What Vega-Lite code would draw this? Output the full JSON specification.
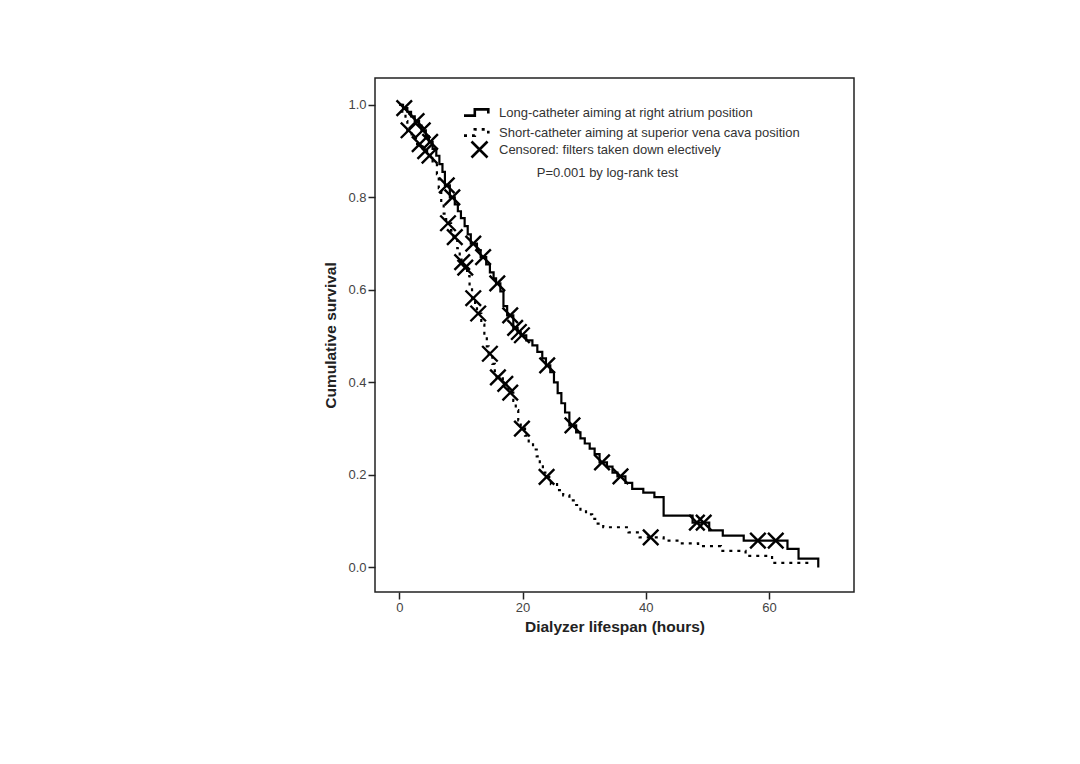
{
  "$schema": "https://vega.github.io/schema/vega-lite/v6.json",
  "width": 479,
  "height": 514,
  "autosize": {"type": "none"},
  "padding": {"left": 375, "top": 78, "right": 226, "bottom": 172},
  "background": "white",
  "config": {
    "view": {"stroke": "#222", "strokeWidth": 1.5},
    "font": "Liberation Sans",
    "axis": {"grid": false, "domain": false, "tickColor": "#222", "tickWidth": 1.5, "tickSize": 7,
             "labelFont": "Liberation Sans", "labelFontSize": 13, "labelColor": "#444",
             "titleFont": "Liberation Sans", "titleFontSize": 15.5, "titleFontWeight": "bold", "titleColor": "#222"}
  },
  "datasets": {
    "curve": [
      {"group": "Long-catheter aiming at right atrium position", "t": 0, "s": 1.0},
      {"group": "Long-catheter aiming at right atrium position", "t": 0.6, "s": 0.993},
      {"group": "Long-catheter aiming at right atrium position", "t": 1.3, "s": 0.985},
      {"group": "Long-catheter aiming at right atrium position", "t": 1.9, "s": 0.975},
      {"group": "Long-catheter aiming at right atrium position", "t": 2.5, "s": 0.965},
      {"group": "Long-catheter aiming at right atrium position", "t": 3.2, "s": 0.955},
      {"group": "Long-catheter aiming at right atrium position", "t": 3.6, "s": 0.945},
      {"group": "Long-catheter aiming at right atrium position", "t": 4.3, "s": 0.932},
      {"group": "Long-catheter aiming at right atrium position", "t": 4.8, "s": 0.92},
      {"group": "Long-catheter aiming at right atrium position", "t": 5.4, "s": 0.905},
      {"group": "Long-catheter aiming at right atrium position", "t": 6.0, "s": 0.89},
      {"group": "Long-catheter aiming at right atrium position", "t": 6.5, "s": 0.872},
      {"group": "Long-catheter aiming at right atrium position", "t": 7.0, "s": 0.855},
      {"group": "Long-catheter aiming at right atrium position", "t": 7.4, "s": 0.826},
      {"group": "Long-catheter aiming at right atrium position", "t": 8.2, "s": 0.80},
      {"group": "Long-catheter aiming at right atrium position", "t": 9.0, "s": 0.785},
      {"group": "Long-catheter aiming at right atrium position", "t": 9.5, "s": 0.77},
      {"group": "Long-catheter aiming at right atrium position", "t": 10.0, "s": 0.755},
      {"group": "Long-catheter aiming at right atrium position", "t": 10.6, "s": 0.738},
      {"group": "Long-catheter aiming at right atrium position", "t": 11.1, "s": 0.72},
      {"group": "Long-catheter aiming at right atrium position", "t": 11.6, "s": 0.70},
      {"group": "Long-catheter aiming at right atrium position", "t": 12.6, "s": 0.686},
      {"group": "Long-catheter aiming at right atrium position", "t": 13.2, "s": 0.671},
      {"group": "Long-catheter aiming at right atrium position", "t": 14.1, "s": 0.655},
      {"group": "Long-catheter aiming at right atrium position", "t": 14.7, "s": 0.638},
      {"group": "Long-catheter aiming at right atrium position", "t": 15.3, "s": 0.625},
      {"group": "Long-catheter aiming at right atrium position", "t": 15.7, "s": 0.614},
      {"group": "Long-catheter aiming at right atrium position", "t": 16.4, "s": 0.597},
      {"group": "Long-catheter aiming at right atrium position", "t": 16.9, "s": 0.565},
      {"group": "Long-catheter aiming at right atrium position", "t": 17.5, "s": 0.545},
      {"group": "Long-catheter aiming at right atrium position", "t": 18.5, "s": 0.518},
      {"group": "Long-catheter aiming at right atrium position", "t": 19.2, "s": 0.509},
      {"group": "Long-catheter aiming at right atrium position", "t": 19.7, "s": 0.502},
      {"group": "Long-catheter aiming at right atrium position", "t": 20.6, "s": 0.491},
      {"group": "Long-catheter aiming at right atrium position", "t": 21.6, "s": 0.48},
      {"group": "Long-catheter aiming at right atrium position", "t": 22.4, "s": 0.466},
      {"group": "Long-catheter aiming at right atrium position", "t": 23.2, "s": 0.452},
      {"group": "Long-catheter aiming at right atrium position", "t": 23.8, "s": 0.437},
      {"group": "Long-catheter aiming at right atrium position", "t": 24.5, "s": 0.422},
      {"group": "Long-catheter aiming at right atrium position", "t": 25.1, "s": 0.40},
      {"group": "Long-catheter aiming at right atrium position", "t": 25.7, "s": 0.377},
      {"group": "Long-catheter aiming at right atrium position", "t": 26.3, "s": 0.355},
      {"group": "Long-catheter aiming at right atrium position", "t": 26.9, "s": 0.335},
      {"group": "Long-catheter aiming at right atrium position", "t": 27.6, "s": 0.307},
      {"group": "Long-catheter aiming at right atrium position", "t": 28.7, "s": 0.292},
      {"group": "Long-catheter aiming at right atrium position", "t": 29.4, "s": 0.279},
      {"group": "Long-catheter aiming at right atrium position", "t": 30.1, "s": 0.268},
      {"group": "Long-catheter aiming at right atrium position", "t": 30.9, "s": 0.257},
      {"group": "Long-catheter aiming at right atrium position", "t": 31.7, "s": 0.245},
      {"group": "Long-catheter aiming at right atrium position", "t": 32.5, "s": 0.227},
      {"group": "Long-catheter aiming at right atrium position", "t": 33.7, "s": 0.218},
      {"group": "Long-catheter aiming at right atrium position", "t": 34.6, "s": 0.205},
      {"group": "Long-catheter aiming at right atrium position", "t": 35.4, "s": 0.197},
      {"group": "Long-catheter aiming at right atrium position", "t": 36.7, "s": 0.183},
      {"group": "Long-catheter aiming at right atrium position", "t": 37.8, "s": 0.17},
      {"group": "Long-catheter aiming at right atrium position", "t": 39.6, "s": 0.162},
      {"group": "Long-catheter aiming at right atrium position", "t": 41.4, "s": 0.152},
      {"group": "Long-catheter aiming at right atrium position", "t": 42.9, "s": 0.112},
      {"group": "Long-catheter aiming at right atrium position", "t": 47.6, "s": 0.097},
      {"group": "Long-catheter aiming at right atrium position", "t": 50.3, "s": 0.08},
      {"group": "Long-catheter aiming at right atrium position", "t": 52.5, "s": 0.069},
      {"group": "Long-catheter aiming at right atrium position", "t": 55.9, "s": 0.058},
      {"group": "Long-catheter aiming at right atrium position", "t": 63.0, "s": 0.04},
      {"group": "Long-catheter aiming at right atrium position", "t": 64.8, "s": 0.019},
      {"group": "Long-catheter aiming at right atrium position", "t": 68.0, "s": 0.0},
      {"group": "Short-catheter aiming at superior vena cava position", "t": 0, "s": 1.0},
      {"group": "Short-catheter aiming at superior vena cava position", "t": 0.4, "s": 0.985},
      {"group": "Short-catheter aiming at superior vena cava position", "t": 1.0, "s": 0.965},
      {"group": "Short-catheter aiming at superior vena cava position", "t": 1.3, "s": 0.945},
      {"group": "Short-catheter aiming at superior vena cava position", "t": 2.0, "s": 0.93},
      {"group": "Short-catheter aiming at superior vena cava position", "t": 2.7, "s": 0.915},
      {"group": "Short-catheter aiming at superior vena cava position", "t": 3.8, "s": 0.90},
      {"group": "Short-catheter aiming at superior vena cava position", "t": 4.5, "s": 0.89},
      {"group": "Short-catheter aiming at superior vena cava position", "t": 5.4, "s": 0.875},
      {"group": "Short-catheter aiming at superior vena cava position", "t": 6.1, "s": 0.85},
      {"group": "Short-catheter aiming at superior vena cava position", "t": 6.4, "s": 0.82},
      {"group": "Short-catheter aiming at superior vena cava position", "t": 6.8, "s": 0.79},
      {"group": "Short-catheter aiming at superior vena cava position", "t": 7.2, "s": 0.765},
      {"group": "Short-catheter aiming at superior vena cava position", "t": 7.6, "s": 0.744},
      {"group": "Short-catheter aiming at superior vena cava position", "t": 8.4, "s": 0.728},
      {"group": "Short-catheter aiming at superior vena cava position", "t": 8.8, "s": 0.714},
      {"group": "Short-catheter aiming at superior vena cava position", "t": 9.4, "s": 0.69},
      {"group": "Short-catheter aiming at superior vena cava position", "t": 9.8, "s": 0.672},
      {"group": "Short-catheter aiming at superior vena cava position", "t": 10.1, "s": 0.66},
      {"group": "Short-catheter aiming at superior vena cava position", "t": 10.5, "s": 0.648},
      {"group": "Short-catheter aiming at superior vena cava position", "t": 11.0, "s": 0.63},
      {"group": "Short-catheter aiming at superior vena cava position", "t": 11.4, "s": 0.605},
      {"group": "Short-catheter aiming at superior vena cava position", "t": 11.8, "s": 0.582},
      {"group": "Short-catheter aiming at superior vena cava position", "t": 12.3, "s": 0.565},
      {"group": "Short-catheter aiming at superior vena cava position", "t": 12.6, "s": 0.549},
      {"group": "Short-catheter aiming at superior vena cava position", "t": 13.3, "s": 0.525},
      {"group": "Short-catheter aiming at superior vena cava position", "t": 13.8, "s": 0.50},
      {"group": "Short-catheter aiming at superior vena cava position", "t": 14.2, "s": 0.478},
      {"group": "Short-catheter aiming at superior vena cava position", "t": 14.5, "s": 0.462},
      {"group": "Short-catheter aiming at superior vena cava position", "t": 15.1, "s": 0.44},
      {"group": "Short-catheter aiming at superior vena cava position", "t": 15.5, "s": 0.42},
      {"group": "Short-catheter aiming at superior vena cava position", "t": 15.8, "s": 0.411},
      {"group": "Short-catheter aiming at superior vena cava position", "t": 16.8, "s": 0.397},
      {"group": "Short-catheter aiming at superior vena cava position", "t": 17.7, "s": 0.378},
      {"group": "Short-catheter aiming at superior vena cava position", "t": 18.5, "s": 0.36},
      {"group": "Short-catheter aiming at superior vena cava position", "t": 18.9, "s": 0.34},
      {"group": "Short-catheter aiming at superior vena cava position", "t": 19.3, "s": 0.318},
      {"group": "Short-catheter aiming at superior vena cava position", "t": 19.7, "s": 0.30},
      {"group": "Short-catheter aiming at superior vena cava position", "t": 20.4, "s": 0.285},
      {"group": "Short-catheter aiming at superior vena cava position", "t": 21.0, "s": 0.27},
      {"group": "Short-catheter aiming at superior vena cava position", "t": 21.7, "s": 0.255},
      {"group": "Short-catheter aiming at superior vena cava position", "t": 22.3, "s": 0.24},
      {"group": "Short-catheter aiming at superior vena cava position", "t": 22.8, "s": 0.222},
      {"group": "Short-catheter aiming at superior vena cava position", "t": 23.3, "s": 0.205},
      {"group": "Short-catheter aiming at superior vena cava position", "t": 23.7, "s": 0.196},
      {"group": "Short-catheter aiming at superior vena cava position", "t": 24.6, "s": 0.18},
      {"group": "Short-catheter aiming at superior vena cava position", "t": 25.6, "s": 0.167},
      {"group": "Short-catheter aiming at superior vena cava position", "t": 26.6, "s": 0.156},
      {"group": "Short-catheter aiming at superior vena cava position", "t": 27.6, "s": 0.145},
      {"group": "Short-catheter aiming at superior vena cava position", "t": 28.5, "s": 0.135},
      {"group": "Short-catheter aiming at superior vena cava position", "t": 29.4, "s": 0.125},
      {"group": "Short-catheter aiming at superior vena cava position", "t": 30.3, "s": 0.115},
      {"group": "Short-catheter aiming at superior vena cava position", "t": 31.3, "s": 0.105},
      {"group": "Short-catheter aiming at superior vena cava position", "t": 32.2, "s": 0.095},
      {"group": "Short-catheter aiming at superior vena cava position", "t": 33.1, "s": 0.087},
      {"group": "Short-catheter aiming at superior vena cava position", "t": 37.2, "s": 0.076},
      {"group": "Short-catheter aiming at superior vena cava position", "t": 39.0, "s": 0.065},
      {"group": "Short-catheter aiming at superior vena cava position", "t": 42.9, "s": 0.058},
      {"group": "Short-catheter aiming at superior vena cava position", "t": 45.5, "s": 0.052},
      {"group": "Short-catheter aiming at superior vena cava position", "t": 48.5, "s": 0.046},
      {"group": "Short-catheter aiming at superior vena cava position", "t": 52.2, "s": 0.036},
      {"group": "Short-catheter aiming at superior vena cava position", "t": 56.2, "s": 0.025},
      {"group": "Short-catheter aiming at superior vena cava position", "t": 60.5, "s": 0.01},
      {"group": "Short-catheter aiming at superior vena cava position", "t": 66.8, "s": 0.01}
    ],
    "censor": [
      {"label": "Censored: filters taken down electively", "t": 0.8, "s": 0.993},
      {"label": "Censored: filters taken down electively", "t": 2.8, "s": 0.965},
      {"label": "Censored: filters taken down electively", "t": 3.8, "s": 0.945},
      {"label": "Censored: filters taken down electively", "t": 5.0, "s": 0.92},
      {"label": "Censored: filters taken down electively", "t": 7.7, "s": 0.826},
      {"label": "Censored: filters taken down electively", "t": 8.6, "s": 0.80},
      {"label": "Censored: filters taken down electively", "t": 12.0, "s": 0.70},
      {"label": "Censored: filters taken down electively", "t": 13.6, "s": 0.671},
      {"label": "Censored: filters taken down electively", "t": 15.9, "s": 0.614},
      {"label": "Censored: filters taken down electively", "t": 18.0, "s": 0.545},
      {"label": "Censored: filters taken down electively", "t": 18.8, "s": 0.518},
      {"label": "Censored: filters taken down electively", "t": 19.4, "s": 0.509},
      {"label": "Censored: filters taken down electively", "t": 19.9, "s": 0.502},
      {"label": "Censored: filters taken down electively", "t": 24.0, "s": 0.437},
      {"label": "Censored: filters taken down electively", "t": 28.1, "s": 0.307},
      {"label": "Censored: filters taken down electively", "t": 32.9, "s": 0.227},
      {"label": "Censored: filters taken down electively", "t": 35.9, "s": 0.197},
      {"label": "Censored: filters taken down electively", "t": 48.3, "s": 0.097},
      {"label": "Censored: filters taken down electively", "t": 49.4, "s": 0.097},
      {"label": "Censored: filters taken down electively", "t": 58.2, "s": 0.058},
      {"label": "Censored: filters taken down electively", "t": 61.1, "s": 0.058},
      {"label": "Censored: filters taken down electively", "t": 1.5, "s": 0.945},
      {"label": "Censored: filters taken down electively", "t": 3.3, "s": 0.915},
      {"label": "Censored: filters taken down electively", "t": 4.2, "s": 0.90},
      {"label": "Censored: filters taken down electively", "t": 4.9, "s": 0.89},
      {"label": "Censored: filters taken down electively", "t": 7.9, "s": 0.744},
      {"label": "Censored: filters taken down electively", "t": 9.0, "s": 0.714},
      {"label": "Censored: filters taken down electively", "t": 10.2, "s": 0.66},
      {"label": "Censored: filters taken down electively", "t": 10.7, "s": 0.648},
      {"label": "Censored: filters taken down electively", "t": 12.0, "s": 0.582},
      {"label": "Censored: filters taken down electively", "t": 12.8, "s": 0.549},
      {"label": "Censored: filters taken down electively", "t": 14.7, "s": 0.462},
      {"label": "Censored: filters taken down electively", "t": 16.0, "s": 0.411},
      {"label": "Censored: filters taken down electively", "t": 17.2, "s": 0.397},
      {"label": "Censored: filters taken down electively", "t": 18.0, "s": 0.378},
      {"label": "Censored: filters taken down electively", "t": 19.9, "s": 0.30},
      {"label": "Censored: filters taken down electively", "t": 23.9, "s": 0.196},
      {"label": "Censored: filters taken down electively", "t": 40.8, "s": 0.065}
    ],
    "note": [
      {"text": "P=0.001 by log-rank test", "t": 22.3, "s": 0.852}
    ]
  },
  "layer": [
    {
      "data": {"name": "curve"},
      "mark": {"type": "line", "interpolate": "step-after", "color": "black", "strokeWidth": 2.2, "strokeCap": "butt"},
      "encoding": {
        "x": {"field": "t", "type": "quantitative", "scale": {"domain": [-3.95, 73.8], "nice": false, "zero": false},
              "axis": {"values": [0, 20, 40, 60], "title": "Dialyzer lifespan (hours)", "labelPadding": 2, "titlePadding": 5}},
        "y": {"field": "s", "type": "quantitative", "scale": {"domain": [-0.053, 1.058], "nice": false, "zero": false},
              "axis": {"values": [0, 0.2, 0.4, 0.6, 0.8, 1.0], "format": ".1f", "title": "Cumulative survival", "labelPadding": 2, "titlePadding": 9}},
        "strokeDash": {
          "field": "group", "type": "nominal",
          "scale": {"domain": ["Long-catheter aiming at right atrium position", "Short-catheter aiming at superior vena cava position"], "range": [[1, 0], [3, 5]]},
          "legend": {
            "orient": "none", "legendX": 92, "legendY": 24, "title": null, "padding": 0,
            "symbolType": "M-1.5,0.35L-0.3,0.35L-0.3,-0.35L1.2,-0.35L1.2,0.1",
            "symbolSize": 324, "symbolStrokeWidth": 2.6, "symbolStrokeColor": "black",
            "labelFont": "Liberation Sans", "labelFontSize": 13, "labelColor": "#333", "labelLimit": 500,
            "labelOffset": 11, "rowPadding": 1
          }
        },
        "detail": {"field": "group"}
      }
    },
    {
      "data": {"name": "censor"},
      "mark": {"type": "point", "filled": false, "color": "black", "strokeWidth": 2.4, "size": 240, "opacity": 1},
      "encoding": {
        "x": {"field": "t", "type": "quantitative"},
        "y": {"field": "s", "type": "quantitative"},
        "shape": {
          "field": "label", "type": "nominal",
          "scale": {"range": ["M-1,-1L1,1M1,-1L-1,1"]},
          "legend": {
            "orient": "none", "legendX": 95, "legendY": 62, "title": null, "padding": 0,
            "symbolSize": 256, "symbolStrokeWidth": 2.6, "symbolStrokeColor": "black",
            "labelFont": "Liberation Sans", "labelFontSize": 13, "labelColor": "#333", "labelLimit": 500,
            "labelOffset": 10
          }
        }
      }
    },
    {
      "data": {"name": "note"},
      "mark": {"type": "text", "align": "left", "baseline": "middle", "font": "Liberation Sans", "fontSize": 13, "color": "#333"},
      "encoding": {
        "x": {"field": "t", "type": "quantitative"},
        "y": {"field": "s", "type": "quantitative"},
        "text": {"field": "text"}
      }
    }
  ]
}
